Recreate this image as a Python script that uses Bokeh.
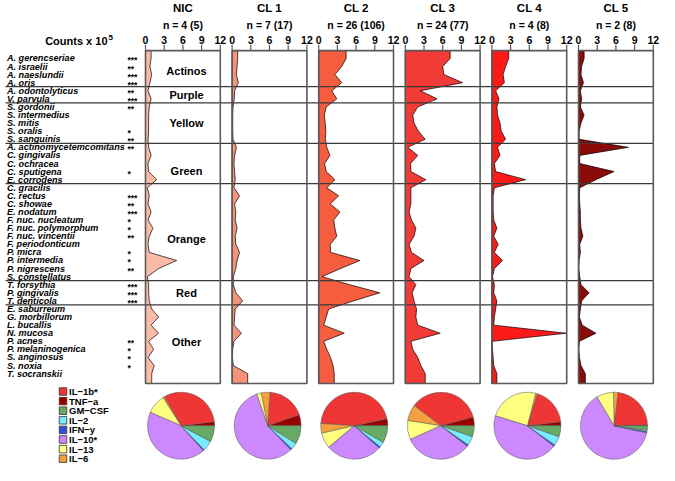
import numpy as np
from bokeh.plotting import figure
from bokeh.models import Range1d, ColumnDataSource
from bokeh.core.properties import value
from bokeh.embed import file_html
from bokeh.resources import INLINE

# ---------------- data ----------------
species = ["A. gerencseriae", "A. israelii", "A. naeslundii", "A. oris",
           "A. odontolyticus", "V. parvula",
           "S. gordonii", "S. intermedius", "S. mitis", "S. oralis", "S. sanguinis",
           "A. actinomycetemcomitans", "C. gingivalis", "C. ochracea", "C. sputigena", "E. corrodens",
           "C. gracilis", "C. rectus", "C. showae", "E. nodatum", "F. nuc. nucleatum",
           "F. nuc. polymorphum", "F. nuc. vincentii", "F. periodonticum", "P. micra",
           "P. intermedia", "P. nigrescens", "S. constellatus",
           "T. forsythia", "P. gingivalis", "T. denticola",
           "E. saburreum", "G. morbillorum", "L. bucallis", "N. mucosa", "P. acnes",
           "P. melaninogenica", "S. anginosus", "S. noxia", "T. socranskii"]
stars = ["***", "**", "***", "***", "**", "***", "**", "", "", "*", "**",
         "**", "", "", "*", "", "", "***", "**", "***", "*", "*", "**", "", "*",
         "*", "**", "", "***", "***", "***", "", "", "", "", "**", "*", "*", "*", ""]
groups = ["Actinos", "Purple", "Yellow", "Green", "Orange", "Red", "Other"]
group_sizes = [4, 2, 5, 5, 12, 3, 9]
group_label_rows = [1.6, 4.5, 8.0, 13.9, 22.4, 29.0, 35.1]

panels = ["NIC", "CL 1", "CL 2", "CL 3", "CL 4", "CL 5"]
panel_n = ["n = 4 (5)", "n = 7 (17)", "n = 26 (106)", "n = 24 (77)", "n = 4 (8)", "n = 2 (8)"]
panel_colors = ["#FBBBA6", "#F6917B", "#F65D3F", "#F23A36", "#FF1A1A", "#8B0A0A"]

nic = [0.9, 0.7, 1.0, 0.7, 0.4, 0.9, 0.6, 0.5, 0.5, 0.5, 0.4, 0.5, 0.9, 0.4, 0.5, 1.8,
       0.3, 0.6, 0.4, 0.9, 0.4, 1.2, 0.6, 0.4, 0.6, 5.0, 2.1, 0.3, 0.5, 0.5, 0.6,
       1.0, 2.1, 0.9, 2.1, 0.5, 1.3, 0.4, 1.4, 1.0]
cl1 = [0.9, 0.8, 0.7, 1.0, 0.4, 0.35, 0.15, 0.1, 0.1, 0.1, 0.15, 0.7, 0.4, 0.3, 0.4, 0.5,
       0.3, 1.2, 0.4, 0.6, 0.5, 0.8, 0.5, 0.6, 1.2, 0.8, 0.6, 0.2, 0.2, 0.6, 1.7,
       0.5, 0.4, 0.3, 1.5, 0.3, 0.1, 0.05, 0.2, 2.5]
cl2 = [4.4, 3.7, 2.6, 3.7, 2.1, 2.9, 1.2, 0.9, 1.05, 1.15, 1.05, 1.3, 1.8, 0.95, 1.2, 2.6,
       1.3, 3.2, 1.85, 3.4, 2.4, 2.6, 2.9, 1.85, 1.9, 6.6, 3.5, 0.5, 5.0, 9.8, 5.6,
       1.6, 1.2, 0.8, 4.1, 0.8, 1.3, 1.9, 2.3, 2.5]
cl3 = [7.2, 6.0, 6.2, 9.2, 2.4, 5.1, 2.0, 1.2, 1.4, 2.1, 3.2, 0.4, 2.0, 0.85, 0.9, 3.3,
       0.9, 0.9, 0.9, 0.6, 1.0, 1.7, 1.4, 0.6, 1.0, 3.0, 0.9, 0.6, 1.7, 1.1, 1.4,
       1.8, 1.7, 2.0, 5.6, 0.9, 1.2, 2.0, 2.5, 3.2]
cl4 = [2.7, 2.2, 1.8, 2.0, 0.6, 1.15, 0.8, 0.9, 1.3, 1.5, 2.2, 0.9, 1.3, 0.4, 0.6, 5.4,
       0.4, 0.2, 0.2, 0.2, 0.3, 0.8, 0.3, 1.0, 0.4, 1.7, 0.4, 0.1, 0.4, 0.3, 0.8,
       0.6, 0.4, 0.3, 11.9, 0.05, 0.1, 0.2, 0.3, 0.8]
cl5 = [0.9, 0.5, 0.4, 0.8, 0.3, 0.5, 0.3, 0.9, 0.4, 0.1, 0.1, 8.0, 0.2, 0.2, 5.7, 2.8,
       0.2, 0.15, 0.2, 0.3, 0.3, 0.4, 0.7, 0.2, 0.3, 0.1, 0.05, 0.2, 0.4, 1.7, 0.5,
       0.3, 0.15, 0.6, 2.8, 0.15, 0.05, 0.15, 0.4, 1.1]
counts = [nic, cl1, cl2, cl3, cl4, cl5]

tick_values = [0, 3, 6, 9, 12]
tick_labels = ["0", "3", "6", "9", "12"]

cytokines = ["IL\u22121b*", "TNF\u2212a", "GM\u2212CSF", "IL\u22122", "IFN\u2212y",
             "IL\u221210*", "IL\u221213", "IL\u22126"]
cyto_colors = ["#F03535", "#990000", "#66AA66", "#77EEFF", "#2F4FE0",
               "#CC88FF", "#FFFF80", "#F4A040"]
# percent per cytokine (legend order)
pie_nic = [31.4, 1.9, 7.8, 5.0, 0.6, 43.1, 9.4, 0.8]
pie_cl1 = [18.6, 5.3, 8.9, 3.1, 0.8, 56.9, 2.2, 4.2]
pie_cl2 = [45.6, 3.3, 8.3, 2.5, 0.8, 27.2, 7.5, 4.7]
pie_cl3 = [35.6, 4.2, 5.3, 4.4, 0.8, 32.8, 9.2, 7.8]
pie_cl4 = [18.3, 1.9, 5.3, 4.4, 0.8, 44.2, 24.2, 0.8]
pie_cl5 = [22.8, 0.3, 2.2, 0.6, 0.6, 63.1, 8.3, 2.2]
pies = [pie_nic, pie_cl1, pie_cl2, pie_cl3, pie_cl4, pie_cl5]
# counter-clockwise drawing order starting at 3 o'clock
pie_order = [1, 0, 7, 6, 5, 4, 3, 2]

# ---------------- layout ----------------
W_FIG, H_FIG = 659, 465
S = 0.982                      # overall scale so that the whole fits


def fy(ref_y):
    return ref_y * S


Y0, DY = fy(59.0), 8.23 * S    # pixel row of first species, pixels per species row


def row_at(py):
    return (py - Y0) / DY


P_LEFT0, P_STEP, P_W = 145.0, 86.6, 74.8
TOP, BOT = row_at(fy(51)), row_at(fy(390))
FONT = value("Liberation Sans")

p = figure(width=W_FIG, height=H_FIG, output_backend="svg", toolbar_location=None,
           x_range=Range1d(0, W_FIG), y_range=Range1d(row_at(H_FIG), row_at(0)),
           x_axis_location=None, y_axis_location=None, min_border=0)
p.outline_line_color = None
p.grid.visible = False
p.background_fill_color = "white"
p.border_fill_color = "white"

names = []
for k in range(6):
    L = P_LEFT0 + P_STEP * k
    nm = "p%d" % k
    p.extra_x_ranges[nm] = Range1d(-L * 12 / P_W, (W_FIG - L) * 12 / P_W)
    names.append(nm)

rows = list(range(len(species)))

# area profiles
for k in range(6):
    v = counts[k]
    xs = [0, v[0]] + list(v) + [v[-1], 0]
    ys = [TOP, TOP] + rows + [BOT, BOT]
    p.patch(xs, ys, fill_color=panel_colors[k], line_color="black", line_width=0.7,
            x_range_name=names[k])

# group separators
bounds = np.cumsum(group_sizes)[:-1] - 0.5
p.segment(x0=[5] * len(bounds), x1=[P_LEFT0 + P_STEP * 5 + P_W + 0.5] * len(bounds),
          y0=list(bounds), y1=list(bounds), line_color="#3a3a3a", line_width=1.3)

# panel boxes, ticks, titles, pies
for k in range(6):
    nm = names[k]
    p.quad(left=[0], right=[12], top=[TOP], bottom=[BOT], fill_color=None,
           line_color="#5a5a5a", line_width=1.6, x_range_name=nm)
    p.segment(x0=tick_values, x1=tick_values, y0=[TOP] * 5, y1=[row_at(fy(45))] * 5,
              line_color="#5a5a5a", line_width=1.2, x_range_name=nm)
    p.text(x=tick_values, y=[row_at(fy(40))] * 5, text=tick_labels, text_font=FONT,
           text_font_style="bold", text_font_size="10.5px", text_align="center",
           text_baseline="middle", x_range_name=nm)
    p.text(x=[6], y=[row_at(fy(7.5))], text=[panels[k]], text_font=FONT,
           text_font_style="bold", text_font_size="11.5px", text_align="center",
           text_baseline="middle", x_range_name=nm)
    p.text(x=[6], y=[row_at(fy(25))], text=[panel_n[k]], text_font=FONT,
           text_font_style="bold", text_font_size="10.5px", text_align="center",
           text_baseline="middle", x_range_name=nm)
    vals = [pies[k][i] for i in pie_order]
    cols = [cyto_colors[i] for i in pie_order]
    total = float(sum(vals))
    ends = np.cumsum(vals) / total * 2 * np.pi
    starts = np.concatenate([[0.0], ends[:-1]])
    src = ColumnDataSource(dict(x=[5.7] * 8, y=[row_at(fy(433))] * 8, s=list(starts),
                                e=list(ends), c=cols))
    p.wedge(x="x", y="y", radius=33.5, radius_units="screen", start_angle="s",
            end_angle="e", fill_color="c", line_color="#555555", line_width=0.5,
            source=src, x_range_name=nm)

# species labels & stars
p.text(x=[6.5] * len(species), y=rows, text=species, text_font=FONT,
       text_font_style="bold italic", text_font_size="9.1px", text_baseline="middle")
p.text(x=[127] * len(stars), y=rows, text=stars, text_font=FONT, text_font_style="bold",
       text_font_size="8.5px", text_baseline="middle", y_offset=2)

# group labels
p.text(x=[186] * len(groups), y=group_label_rows, text=groups, text_font=FONT,
       text_font_style="bold", text_font_size="11px", text_align="center",
       text_baseline="middle")

# counts header
p.text(x=[107], y=[row_at(fy(41))], text=["Counts x 10"], text_font=FONT,
       text_font_style="bold", text_font_size="11px", text_align="right",
       text_baseline="middle")
p.text(x=[108], y=[row_at(fy(37.5))], text=["5"], text_font=FONT, text_font_style="bold",
       text_font_size="8px", text_align="left", text_baseline="middle")

# cytokine legend
leg_y = [row_at(391 + 9.6 * i) for i in range(len(cytokines))]
p.scatter(x=[62.5] * len(cytokines), y=leg_y, marker="square", size=7.5,
          fill_color=cyto_colors, line_color="#333333", line_width=0.8)
p.text(x=[68.5] * len(cytokines), y=leg_y, text=cytokines, text_font=FONT,
       text_font_style="bold", text_font_size="9.5px", text_baseline="middle")

open("out.html", "w").write(file_html(p, INLINE))
